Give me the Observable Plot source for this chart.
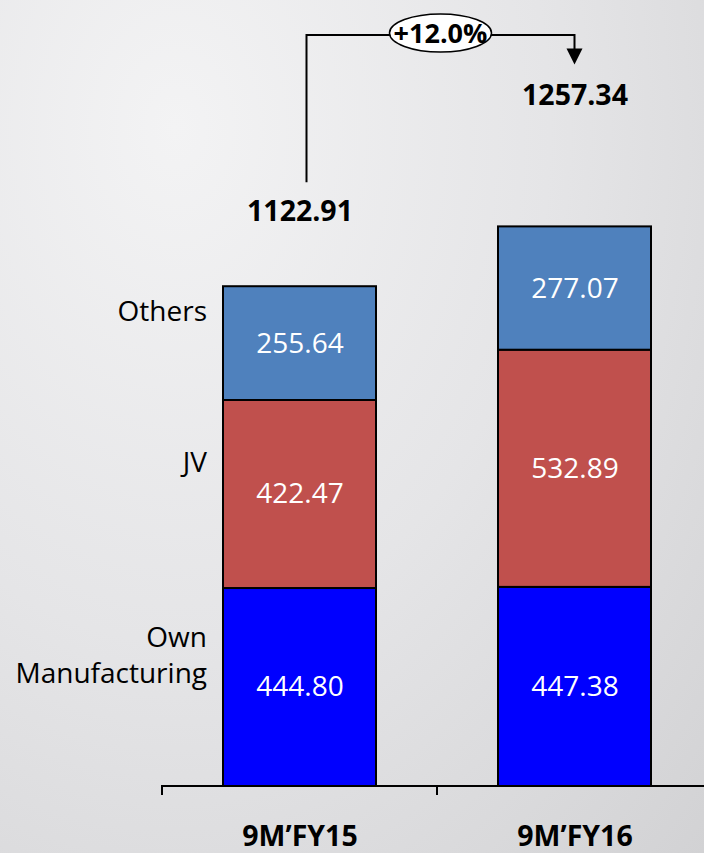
<!DOCTYPE html>
<html><head><meta charset="utf-8">
<script src="https://cdn.jsdelivr.net/npm/d3@7"></script>
<script src="https://cdn.jsdelivr.net/npm/@observablehq/plot@0.6"></script>
<style>
html,body{margin:0;padding:0;width:704px;height:853px;overflow:hidden;}
body{background:radial-gradient(ellipse at 25% 15%, #f3f3f4 0%, #e5e5e7 50%, #d2d2d4 100%);}
svg{background:transparent !important;}
</style></head><body>
<div id="chart"></div>
<script>
const categories = ["9M’FY15", "9M’FY16"];
const seriesNames = ["Own Manufacturing", "JV", "Others"];
const legendLabels = ["Own\nManufacturing", "JV", "Others"];
const ownManufacturing = [444.80, 447.38];
const jv = [422.47, 532.89];
const others = [255.64, 277.07];
const totals = [1122.91, 1257.34];
const colors = ["#0000FF", "#C0504D", "#4F81BD"];

const seriesValues = [ownManufacturing, jv, others];
const rows = [];
seriesNames.forEach((s, si) => categories.forEach((c, ci) => rows.push({cat: c, series: s, value: seriesValues[si][ci]})));
const totalRows = categories.map((c, i) => ({cat: c, total: totals[i]}));
const growth = (totals[1] / totals[0] - 1) * 100;
const growthLabel = (growth >= 0 ? "+" : "") + growth.toFixed(1) + "%";

const legendRows = seriesNames.map((s, si) => {
  let base = 0; for (let k = 0; k < si; k++) base += seriesValues[k][0];
  return {cat: categories[0], label: legendLabels[si], y: base + seriesValues[si][0] / 2};
});

const font = "'Open Sans', sans-serif";
const bracketLevel = Math.max(...totals) * 1.342;

function bracket(index, scales, values, dims) {
  const x = scales.x, y = scales.y;
  const bw = x.bandwidth ? x.bandwidth() : 153;
  const x0 = x(categories[0]) + bw / 2 + 7;
  const x1 = x(categories[1]) + bw / 2;
  const yStart = y(totals[0]) - 104;
  const yTop = y(bracketLevel);
  const yEnd = y(totals[1]) - 162;
  const g = d3.create("svg:g");
  g.append("path").attr("d", `M${x0},${yStart}V${yTop}H${x1}V${yEnd - 14}`)
    .attr("fill", "none").attr("stroke", "#000").attr("stroke-width", 2);
  g.append("path").attr("d", `M${x1 - 8},${yEnd - 16}L${x1 + 8},${yEnd - 16}L${x1},${yEnd}Z`).attr("fill", "#000");
  const cx = (x0 + x1) / 2;
  g.append("ellipse").attr("cx", cx).attr("cy", yTop - 2).attr("rx", 51).attr("ry", 19)
    .attr("fill", "#fff").attr("stroke", "#000").attr("stroke-width", 1.5);
  g.append("text").attr("x", cx).attr("y", yTop - 2).attr("dy", "0.36em").attr("text-anchor", "middle")
    .attr("font-family", font).attr("font-weight", "bold").attr("font-size", 27).text(growthLabel);
  return g.node();
}

function axis(index, scales, values, dims) {
  const x = scales.x, y = scales.y;
  const bw = x.bandwidth ? x.bandwidth() : 153;
  const step = x(categories[1]) - x(categories[0]);
  const gap = step - bw;
  const y0 = y(0);
  const t0 = x(categories[0]) - gap / 2, t1 = x(categories[1]) - gap / 2;
  const g = d3.create("svg:g");
  g.append("path").attr("d", `M${t0},${y0 + 9}V${y0}H${dims.width}M${t1},${y0}V${y0 + 9}`)
    .attr("fill", "none").attr("stroke", "#000").attr("stroke-width", 2);
  return g.node();
}

const chart = Plot.plot({
  width: 704, height: 853, margin: 0,
  style: {background: "transparent", fontFamily: font},
  x: {domain: categories, range: [162, 712], paddingInner: 0.444, paddingOuter: 0.222, axis: null},
  y: {domain: [0, 1766], range: [786, 0], axis: null},
  color: {domain: seriesNames, range: colors},
  marks: [
    Plot.barY(rows, {x: "cat", y: "value", fill: "series", z: "series", stroke: "#000", strokeWidth: 2, order: seriesNames}),
    Plot.text(rows, Plot.stackY({x: "cat", y: "value", z: "series", order: seriesNames, text: d => d.value.toFixed(2), fill: "#fff", fontSize: 28})),
    Plot.text(legendRows, {x: "cat", y: "y", text: "label", dx: -93, dy: -34, textAnchor: "end", fill: "#000", fontSize: 28, lineHeight: 1.29}),
    Plot.text(totalRows.slice(0, 1), {x: "cat", y: "total", text: d => d.total.toFixed(2), dy: -75, fontWeight: "bold", fontSize: 28.5, fill: "#000"}),
    Plot.text(totalRows.slice(1), {x: "cat", y: "total", text: d => d.total.toFixed(2), dy: -131, fontWeight: "bold", fontSize: 28.5, fill: "#000"}),
    Plot.text(categories, {x: d => d, y: () => 0, text: d => d, dy: 50, fontWeight: "bold", fontSize: 28.5, fill: "#000"}),
    axis,
    bracket
  ]
});
document.getElementById("chart").appendChild(chart);
</script>
</body></html>
